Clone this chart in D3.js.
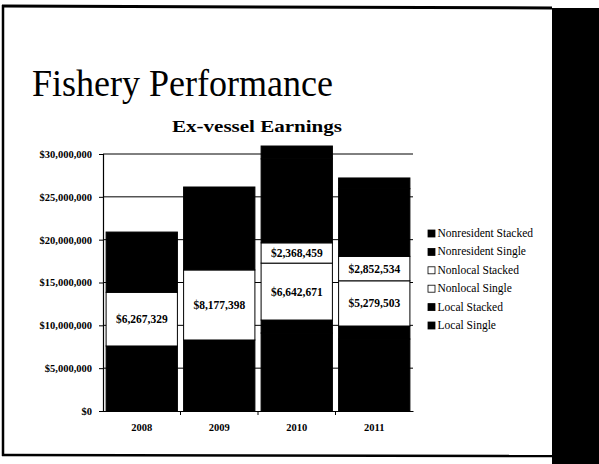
<!DOCTYPE html>
<html lang="en">
<head>
    <meta charset="UTF-8">
    <title>Fishery Performance</title>
    <script src="https://d3js.org/d3.v7.min.js"></script>
    <style>
        body { margin: 0; padding: 0; background: #fff; }
        svg { display: block; }
        .axis-label { font-family: "Liberation Serif", serif; font-weight: bold; font-size: 10.5px; }
        .data-label { font-family: "Liberation Serif", serif; font-weight: bold; font-size: 11.5px; }
    </style>
</head>
<body>
<svg id="chart" width="599" height="464"></svg>
<script>
    // data (values in dollars)
    const years = ["2008", "2009", "2010", "2011"];
    const seriesNames = ["Local Single", "Local Stacked", "Nonlocal Single", "Nonlocal Stacked", "Nonresident Single", "Nonresident Stacked"];
    const localSingle = [7590000, 8290000, 9100000, 8400000];
    const localStacked = [0, 0, 1520000, 1520000];
    const nonlocalSingle = [6267329, 8177398, 6642671, 5279503];
    const nonlocalStacked = [0, 0, 2368459, 2852534];
    const nonresidentSingle = [7030000, 9680000, 9800000, 7900000];
    const nonresidentStacked = [0, 0, 1500000, 1250000];
    const yTicks = [0, 5000000, 10000000, 15000000, 20000000, 25000000, 30000000];
    const whiteSeries = ["Nonlocal Single", "Nonlocal Stacked"];

    const rows = years.map((yr, i) => ({
        year: yr,
        "Local Single": localSingle[i],
        "Local Stacked": localStacked[i],
        "Nonlocal Single": nonlocalSingle[i],
        "Nonlocal Stacked": nonlocalStacked[i],
        "Nonresident Single": nonresidentSingle[i],
        "Nonresident Stacked": nonresidentStacked[i]
    }));

    const svg = d3.select("#chart");

    // slide frame
    svg.append("rect").attr("x", 0).attr("y", 0).attr("width", 599).attr("height", 464).attr("fill", "#fff");
    svg.append("rect").attr("x", 552).attr("y", 8).attr("width", 47).attr("height", 456).attr("fill", "#000");
    svg.append("line").attr("x1", 2).attr("x2", 552).attr("y1", 6).attr("y2", 8).attr("stroke", "#000").attr("stroke-width", 3);
    svg.append("line").attr("x1", 3).attr("x2", 3).attr("y1", 5).attr("y2", 456).attr("stroke", "#000").attr("stroke-width", 2.5);
    svg.append("line").attr("x1", 2).attr("x2", 552).attr("y1", 455).attr("y2", 456).attr("stroke", "#000").attr("stroke-width", 2.5);

    svg.append("text")
        .attr("x", 32).attr("y", 96)
        .attr("font-family", "'Liberation Serif', serif")
        .attr("font-size", 37)
        .attr("textLength", 301)
        .attr("lengthAdjust", "spacingAndGlyphs")
        .text("Fishery Performance");

    svg.append("text")
        .attr("x", 172).attr("y", 132)
        .attr("font-family", "'Liberation Serif', serif")
        .attr("font-weight", "bold")
        .attr("font-size", 16)
        .attr("textLength", 170)
        .attr("lengthAdjust", "spacingAndGlyphs")
        .text("Ex-vessel Earnings");

    const margin = {left: 103, top: 154, right: 413, bottom: 411};
    const x = d3.scaleBand().domain(years).range([margin.left, margin.right]).paddingInner(0.08).paddingOuter(0.04);
    const y = d3.scaleLinear().domain([0, 30000000]).range([margin.bottom, margin.top]);

    // gridlines
    svg.append("g").selectAll("line")
        .data(yTicks.slice(1))
        .join("line")
        .attr("x1", margin.left).attr("x2", margin.right)
        .attr("y1", d => y(d)).attr("y2", d => y(d))
        .attr("stroke", "#000").attr("stroke-width", 1);

    const stack = d3.stack().keys(seriesNames);
    const layers = stack(rows);

    svg.append("g").selectAll("g")
        .data(layers)
        .join("g")
        .attr("fill", d => whiteSeries.includes(d.key) ? "#fff" : "#000")
        .selectAll("rect")
        .data(d => d.filter(p => p[1] > p[0]))
        .join("rect")
        .attr("x", d => x(d.data.year))
        .attr("width", x.bandwidth())
        .attr("y", d => y(d[1]))
        .attr("height", d => y(d[0]) - y(d[1]))
        .attr("stroke", "#000").attr("stroke-width", 1);

    // data labels on the white segments
    layers.filter(l => whiteSeries.includes(l.key)).forEach(l => {
        svg.append("g").selectAll("text")
            .data(l.filter(p => p[1] > p[0]))
            .join("text")
            .attr("class", "data-label")
            .attr("x", d => x(d.data.year) + x.bandwidth() / 2)
            .attr("y", d => (y(d[0]) + y(d[1])) / 2 + 4)
            .attr("text-anchor", "middle")
            .text(d => d3.format("$,")(d[1] - d[0]));
    });

    // axes
    const yAxis = d3.axisLeft(y).tickValues(yTicks).tickSize(4).tickFormat(d3.format("$,"));
    const ya = svg.append("g").attr("transform", `translate(${margin.left},0)`).call(yAxis);
    ya.select(".domain").attr("stroke", "#000").attr("stroke-width", 1.2);
    ya.selectAll(".tick text").attr("class", "axis-label").attr("x", -11).attr("fill", "#000");

    const xa = svg.append("g").attr("transform", `translate(0,${margin.bottom})`)
        .call(d3.axisBottom(x).tickSize(0).tickPadding(13));
    xa.select(".domain").attr("stroke", "#000").attr("stroke-width", 1.2);
    xa.selectAll(".tick text").attr("class", "axis-label").attr("fill", "#000");
    const step = x.step();
    svg.append("g").selectAll("line")
        .data(years.slice(1))
        .join("line")
        .attr("x1", d => x(d) - step * x.paddingInner() / 2)
        .attr("x2", d => x(d) - step * x.paddingInner() / 2)
        .attr("y1", margin.bottom).attr("y2", margin.bottom + 4)
        .attr("stroke", "#000");

    // legend (reversed like the original)
    const legend = svg.append("g").attr("transform", "translate(428,237)");
    const legendItems = seriesNames.slice().reverse();
    legendItems.forEach((name, i) => {
        const row = legend.append("g").attr("transform", `translate(0,${i * 18.4})`);
        row.append("rect")
            .attr("x", 0).attr("y", -7).attr("width", 7).attr("height", 7)
            .attr("fill", whiteSeries.includes(name) ? "#fff" : "#000")
            .attr("stroke", "#000").attr("stroke-width", 0.8);
        row.append("text")
            .attr("x", 9.5).attr("y", 0)
            .attr("font-family", "'Liberation Serif', serif")
            .attr("font-size", 11.5)
            .text(name);
    });
</script>
</body>
</html>
